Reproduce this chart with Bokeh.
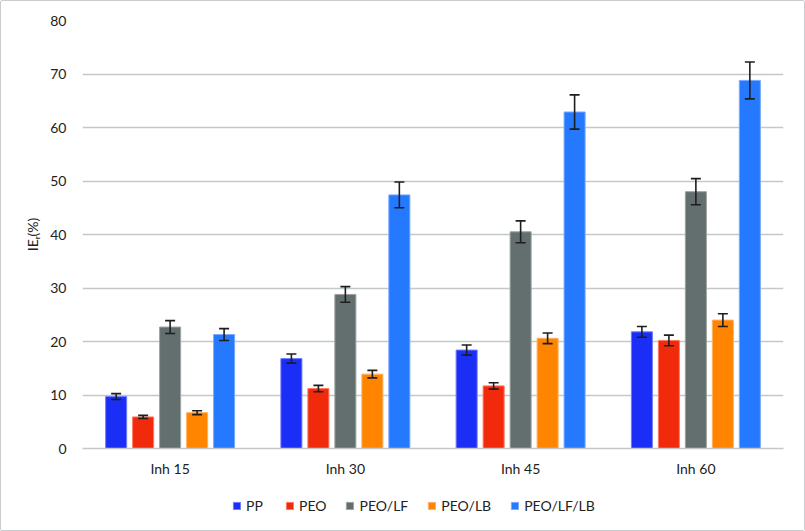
from bokeh.plotting import figure
from bokeh.layouts import column
from bokeh.models import (ColumnDataSource, FactorRange, Legend, LegendItem,
                          Whisker, TeeHead, SingleIntervalTicker)
from bokeh.transform import dodge
from bokeh.embed import file_html
from bokeh.resources import INLINE

# Inhibition efficiency by formulation and exposure time
categories = ["Inh 15", "Inh 30", "Inh 45", "Inh 60"]
series = ["PP", "PEO", "PEO/LF", "PEO/LB", "PEO/LF/LB"]

pp = [9.7, 16.8, 18.4, 21.8]
peo = [5.9, 11.2, 11.7, 20.2]
peo_lf = [22.7, 28.8, 40.5, 48.0]
peo_lb = [6.7, 13.9, 20.6, 24.0]
peo_lf_lb = [21.3, 47.4, 62.9, 68.8]

pp_err = [0.55, 0.85, 0.95, 1.0]
peo_err = [0.3, 0.6, 0.6, 1.0]
peo_lf_err = [1.2, 1.45, 2.05, 2.45]
peo_lb_err = [0.37, 0.7, 1.0, 1.2]
peo_lf_lb_err = [1.1, 2.4, 3.2, 3.45]

values = [pp, peo, peo_lf, peo_lb, peo_lf_lb]
errors = [pp_err, peo_err, peo_lf_err, peo_lb_err, peo_lf_lb_err]
colors = ["#1a2ef5", "#f02a0a", "#626f6e", "#ff8500", "#2579ff"]
edges = ["#6f7cff", "#ff7a63", "#9aa3a2", "#ffb063", "#78aaff"]
offsets = [-0.308, -0.154, 0.0, 0.154, 0.308]

FONT = "Lato"
TEXT = "#222222"
GRID = "#c3c9c9"
W = 803

# main bar chart
p = figure(x_range=FactorRange(*categories, range_padding=0.0),
           y_range=(0, 80), width=W, height=485,
           output_backend="svg", toolbar_location=None,
           min_border_left=81, min_border_right=21,
           min_border_top=19, min_border_bottom=38)
p.outline_line_color = None
p.background_fill_color = "white"
p.border_fill_color = "white"

for name, vals, errs, col, edge, off in zip(series, values, errors, colors, edges, offsets):
    src = ColumnDataSource(dict(
        cat=categories, val=vals,
        up=[v + e for v, e in zip(vals, errs)],
        lo=[v - e for v, e in zip(vals, errs)],
    ))
    p.vbar(x=dodge("cat", off, range=p.x_range), top="val", width=0.12,
           source=src, fill_color=col, line_color=edge, line_width=1)
    w = Whisker(base=dodge("cat", off, range=p.x_range), upper="up", lower="lo",
                source=src, line_color="#1e1e1e", line_width=1.6, level="overlay",
                upper_head=TeeHead(size=10, line_color="#1e1e1e", line_width=1.6),
                lower_head=TeeHead(size=10, line_color="#1e1e1e", line_width=1.6))
    p.add_layout(w)

p.yaxis.ticker = SingleIntervalTicker(interval=10)
p.yaxis.axis_line_color = None
p.yaxis.major_tick_line_color = None
p.yaxis.minor_tick_line_color = None
p.yaxis.major_label_standoff = 10
p.yaxis.major_label_text_font = FONT
p.yaxis.major_label_text_font_size = "14px"
p.yaxis.major_label_text_color = TEXT
p.yaxis.axis_label = "IEᵣ(%)"
p.yaxis.axis_label_text_font = FONT
p.yaxis.axis_label_text_font_size = "14px"
p.yaxis.axis_label_text_font_style = "normal"
p.yaxis.axis_label_text_color = TEXT
p.yaxis.axis_label_standoff = 6

p.xaxis.axis_line_color = GRID
p.xaxis.axis_line_width = 1.5
p.xaxis.major_tick_line_color = None
p.xaxis.minor_tick_line_color = None
p.xaxis.major_label_standoff = 5
p.xaxis.major_label_text_font = FONT
p.xaxis.major_label_text_font_size = "14px"
p.xaxis.major_label_text_color = TEXT

p.xgrid.grid_line_color = None
p.ygrid.grid_line_color = GRID
p.ygrid.grid_line_width = 1.5

# legend strip under the chart; its swatches come from zero-height bars
leg = figure(width=W, height=44, x_range=(0, W), y_range=(0, 44),
             output_backend="svg", toolbar_location=None,
             min_border=0, outline_line_color=None)
leg.axis.visible = False
leg.grid.visible = False
items = []
for name, col, edge in zip(series, colors, edges):
    swatch = ColumnDataSource(dict(x=[0], top=[0]))
    r = leg.vbar(x="x", top="top", width=0, source=swatch,
                 fill_color=col, line_color=edge)
    items.append(LegendItem(label=name, renderers=[r]))

legend = Legend(items=items, orientation="horizontal",
                location=(150, 16), padding=0, margin=0, spacing=19,
                glyph_width=9, glyph_height=9, label_standoff=5,
                label_text_font=FONT, label_text_font_size="14px",
                label_text_color=TEXT, border_line_color=None,
                background_fill_alpha=0)
leg.add_layout(legend, "center")

page = column(p, leg, spacing=0,
              styles={"border": "1px solid #c9cdcd", "border-radius": "2px"})

open("out.html", "w").write(file_html(page, INLINE))
